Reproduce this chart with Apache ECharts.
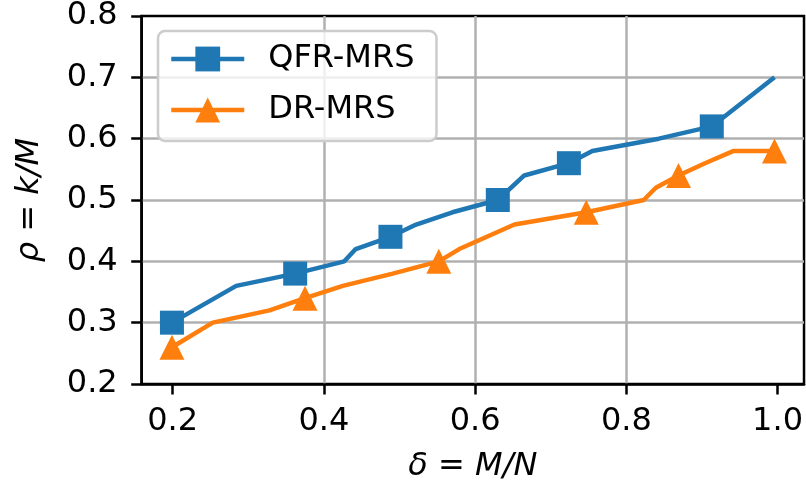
<!DOCTYPE html>
<html>
<head>
<meta charset="utf-8">
<script src="https://cdn.jsdelivr.net/npm/echarts@6/dist/echarts.min.js"></script>
<style>html,body{margin:0;padding:0;background:#fff}#c{width:806px;height:488px}</style>
</head>
<body>
<div id="c"></div>
<script>
const seriesNames = ['QFR-MRS', 'DR-MRS'];
const qfrX = [0.199, 0.284, 0.362, 0.427, 0.442, 0.488, 0.522, 0.570, 0.630, 0.665, 0.724, 0.755, 0.843, 0.913, 0.996];
const qfrY = [0.30, 0.36, 0.38, 0.40, 0.42, 0.44, 0.46, 0.48, 0.50, 0.54, 0.56, 0.58, 0.60, 0.62, 0.70];
const qfrMarked = [0, 2, 5, 8, 10, 13];
const drX = [0.199, 0.253, 0.328, 0.375, 0.425, 0.491, 0.552, 0.579, 0.652, 0.747, 0.823, 0.839, 0.869, 0.904, 0.942, 0.996];
const drY = [0.26, 0.30, 0.32, 0.34, 0.36, 0.38, 0.40, 0.42, 0.46, 0.48, 0.50, 0.52, 0.54, 0.56, 0.58, 0.58];
const drMarked = [0, 3, 6, 9, 12, 15];
const xTicks = [0.2, 0.4, 0.6, 0.8, 1.0];
const yTicks = [0.2, 0.3, 0.4, 0.5, 0.6, 0.7, 0.8];

const FONT = 'DejaVu Sans';
const FS = 32;
const LW = 4.5;

function build(xs, ys, marked) {
  return xs.map((x, i) => marked.includes(i) ? { value: [x, ys[i]] } : { value: [x, ys[i]], symbol: 'none' });
}

const chart = echarts.init(document.getElementById('c'), null, { renderer: 'canvas' });
chart.setOption({
  animation: false,
  textStyle: { fontFamily: FONT },
  grid: {
    left: 141.7, right: 1.7, top: 14.4, bottom: 104,
    show: true, borderColor: '#000', borderWidth: 2.5, backgroundColor: 'transparent'
  },
  legend: {
    orient: 'vertical',
    left: 158, top: 31,
    padding: [12, 22, 15, 11],
    itemWidth: 73, itemHeight: 31, itemGap: 19,
    backgroundColor: 'rgba(255,255,255,0.8)',
    borderColor: '#cccccc', borderWidth: 2.5, borderRadius: 7,
    lineStyle: { width: LW },
    textStyle: { fontFamily: FONT, fontSize: FS, color: '#000', padding: [0, 0, 0, 19] },
    data: seriesNames
  },
  xAxis: {
    type: 'value', min: 0.159, max: 1.035,
    name: '{i|δ} = {i|M/N}', nameLocation: 'middle', nameGap: 67,
    nameTextStyle: { fontFamily: FONT, fontSize: FS, color: '#000', rich: { i: { fontFamily: FONT, fontSize: FS, fontStyle: 'italic', color: '#000' } } },
    axisLine: { show: true, lineStyle: { color: '#000', width: 2.5 } },
    axisTick: { show: true, length: 10.5, lineStyle: { color: '#000', width: 2.5 }, customValues: xTicks },
    axisLabel: { fontFamily: FONT, fontSize: FS, color: '#000', margin: 22, customValues: xTicks, formatter: v => v.toFixed(1) },
    splitLine: { show: true, showMinLine: false, showMaxLine: false, lineStyle: { color: '#b0b0b0', width: 2.5 } }
  },
  yAxis: {
    type: 'value', min: 0.2, max: 0.8, interval: 0.1,
    name: '{i|ρ} = {i|k/M}', nameLocation: 'middle', nameGap: 96, nameRotate: 90,
    nameTextStyle: { fontFamily: FONT, fontSize: FS, color: '#000', rich: { i: { fontFamily: FONT, fontSize: FS, fontStyle: 'italic', color: '#000' } } },
    axisLine: { show: true, lineStyle: { color: '#000', width: 2.5 } },
    axisTick: { show: true, length: 10.5, lineStyle: { color: '#000', width: 2.5 } },
    axisLabel: { fontFamily: FONT, fontSize: FS, color: '#000', margin: 24, formatter: v => v.toFixed(1) },
    splitLine: { show: true, showMinLine: false, showMaxLine: false, lineStyle: { color: '#b0b0b0', width: 2.5 } }
  },
  series: [
    {
      name: seriesNames[0], type: 'line', data: build(qfrX, qfrY, qfrMarked),
      symbol: 'rect', symbolSize: 24, showSymbol: true, showAllSymbol: true,
      color: '#1f77b4', lineStyle: { color: '#1f77b4', width: LW }, itemStyle: { color: '#1f77b4' }, z: 3
    },
    {
      name: seriesNames[1], type: 'line', data: build(drX, drY, drMarked),
      symbol: 'triangle', symbolSize: 25, showSymbol: true, showAllSymbol: true,
      color: '#ff7f0e', lineStyle: { color: '#ff7f0e', width: LW }, itemStyle: { color: '#ff7f0e' }, z: 3
    }
  ]
});
</script>
</body>
</html>
